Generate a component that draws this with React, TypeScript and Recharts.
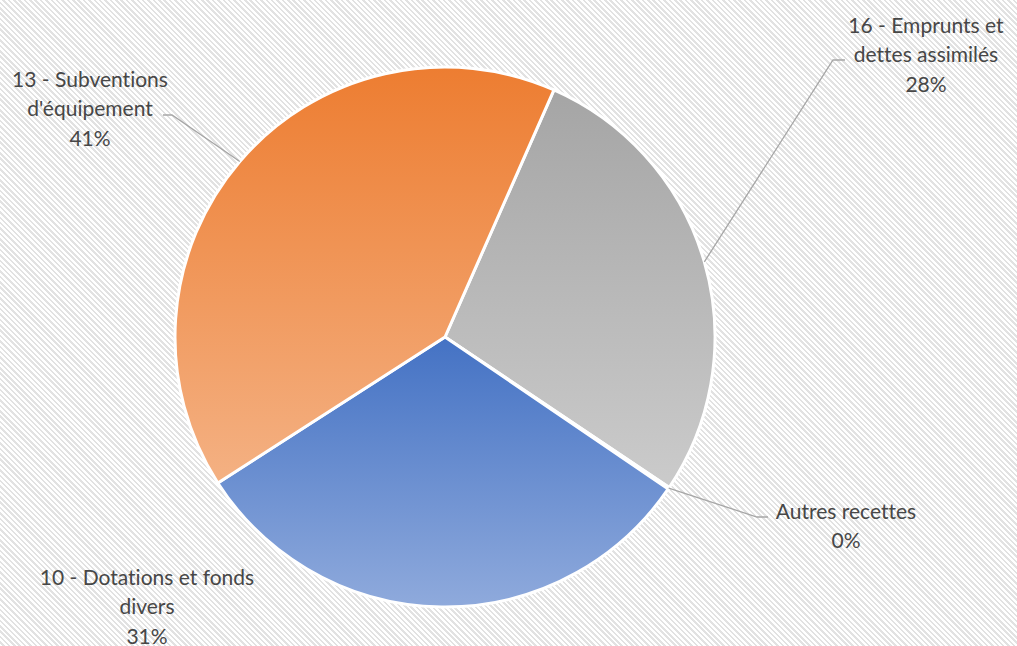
import React from "react";
import { PieChart, Pie, Cell } from "recharts";

const names = [
  "16 - Emprunts et dettes assimilés",
  "Autres recettes",
  "10 - Dotations et fonds divers",
  "13 - Subventions d'équipement",
];
const values = [27.8, 0.1, 31.4, 40.7];

const data = names.map((name, i) => ({ name, value: values[i] }));

const sliceColors = [
  { id: "grad-gray", top: "#A5A5A5", bottom: "#CBCBCB" },
  { id: "grad-yellow", top: "#FFC000", bottom: "#FFD966" },
  { id: "grad-blue", top: "#4472C4", bottom: "#8FAADC" },
  { id: "grad-orange", top: "#ED7D31", bottom: "#F4B183" },
];

// hand placed label boxes, like the source workbook
const labelLayout: Record<
  string,
  { lines: string[]; x: number; y: number; elbow?: [number, number]; end?: [number, number] }
> = {
  "16 - Emprunts et dettes assimilés": {
    lines: ["16 - Emprunts et", "dettes assimilés"],
    x: 926,
    y: 24,
    elbow: [833, 60],
    end: [845, 60],
  },
  "Autres recettes": {
    lines: ["Autres recettes"],
    x: 846,
    y: 510,
    elbow: [757, 517],
    end: [768, 517],
  },
  "10 - Dotations et fonds divers": {
    lines: ["10 - Dotations et fonds", "divers"],
    x: 147,
    y: 576,
  },
  "13 - Subventions d'équipement": {
    lines: ["13 - Subventions", "d'équipement"],
    x: 90,
    y: 78,
    elbow: [172, 115],
    end: [163, 115],
  },
};

const RAD = Math.PI / 180;
const LINE_H = 29.5;

// eslint-disable-next-line @typescript-eslint/no-explicit-any
const renderLabel = (props: any) => {
  const { cx, cy, midAngle, outerRadius, percent, name } = props;
  const layout = labelLayout[name];
  if (!layout) return null;
  const sx = cx + outerRadius * Math.cos(-midAngle * RAD);
  const sy = cy + outerRadius * Math.sin(-midAngle * RAD);
  const lines = [...layout.lines, `${Math.round(percent * 100)}%`];
  return (
    <g>
      {layout.elbow && layout.end && (
        <polyline
          points={`${sx},${sy} ${layout.elbow[0]},${layout.elbow[1]} ${layout.end[0]},${layout.end[1]}`}
          fill="none"
          stroke="#A6A6A6"
          strokeWidth={1.3}
        />
      )}
      {lines.map((line, i) => (
        <text
          key={i}
          x={layout.x}
          y={layout.y + i * LINE_H}
          textAnchor="middle"
          dominantBaseline="central"
          fill="#474747"
          fontSize={21}
          fontFamily="Lato, 'Open Sans', sans-serif"
          style={{ fontVariantLigatures: "none" }}
        >
          {line}
        </text>
      ))}
    </g>
  );
};

export default function App() {
  return (
    <div
      style={{
        position: "absolute",
        left: 0,
        top: 0,
        width: 1017,
        height: 646,
        background:
          "repeating-linear-gradient(45deg, #ffffff 0px, #ffffff 2px, #e2e2e2 2px, #e2e2e2 3.8px)",
      }}
    >
      <PieChart width={1017} height={646} margin={{ top: 0, right: 0, bottom: 0, left: 0 }}>
        <defs>
          {sliceColors.map((c) => (
            <linearGradient key={c.id} id={c.id} x1="0" y1="0" x2="0" y2="1">
              <stop offset="0%" stopColor={c.top} />
              <stop offset="100%" stopColor={c.bottom} />
            </linearGradient>
          ))}
        </defs>
        <Pie
          data={data}
          dataKey="value"
          nameKey="name"
          cx={445}
          cy={337}
          outerRadius={270}
          startAngle={66.2}
          endAngle={-293.8}
          stroke="#ffffff"
          strokeWidth={3}
          label={renderLabel}
          labelLine={false}
          isAnimationActive={false}
        >
          {data.map((d, i) => (
            <Cell key={d.name} fill={`url(#${sliceColors[i].id})`} />
          ))}
        </Pie>
      </PieChart>
    </div>
  );
}
